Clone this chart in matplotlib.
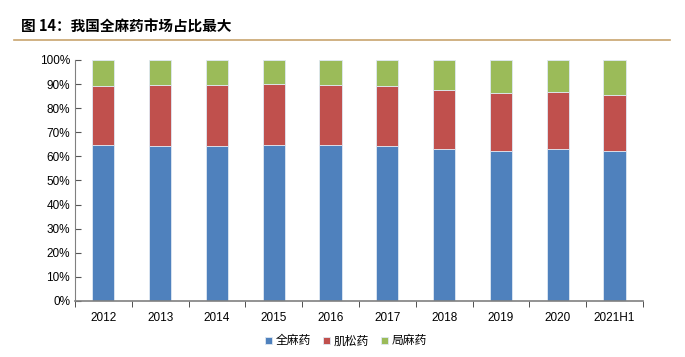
import matplotlib.pyplot as plt
import numpy as np

plt.rcParams['font.family'] = ['Liberation Sans', 'Noto Sans CJK SC', 'DejaVu Sans']

years = ["2012", "2013", "2014", "2015", "2016", "2017", "2018", "2019", "2020", "2021H1"]
quanma = [64.7, 64.3, 64.3, 64.6, 64.6, 64.4, 63.1, 62.2, 62.9, 62.2]
jisong = [24.5, 25.3, 25.3, 25.3, 25.0, 24.8, 24.3, 24.2, 23.8, 23.3]
juma = [100 - a - b for a, b in zip(quanma, jisong)]

names = ["全麻药", "肌松药", "局麻药"]
colors = ["#4F81BD", "#C0504D", "#9BBB59"]

fig = plt.figure(figsize=(6.85, 3.57), dpi=100)
ax = fig.add_axes([0.1095, 0.157, 0.829, 0.675])

x = np.arange(len(years))
w = 0.39
bottom = np.zeros(len(years))
for vals, name, c in zip([quanma, jisong, juma], names, colors):
    ax.bar(x, vals, w, bottom=bottom, color=c, label=name,
           edgecolor="#dfe8f3", linewidth=0.6)
    bottom += np.array(vals)

ax.set_xlim(-0.5, len(years) - 0.5)
ax.set_ylim(0, 100)
ax.set_yticks(np.arange(0, 101, 10))
ax.set_yticklabels([f"{v}%" for v in range(0, 101, 10)], fontsize=8.5)
ax.set_xticks(x)
ax.set_xticklabels(years, fontsize=8.5)
ax.set_xticks(np.arange(-0.5, len(years)), minor=True)
ax.tick_params(axis="x", which="major", length=0, pad=8)
ax.tick_params(axis="x", which="minor", length=4, direction="out", color="#333333")
ax.tick_params(axis="y", length=4, direction="in", color="#555555")

for s in ["top", "right"]:
    ax.spines[s].set_visible(False)
ax.spines["left"].set_color("#808080")
ax.spines["bottom"].set_color("#808080")
ax.spines["bottom"].set_linewidth(1.2)

fig.text(0.03, 0.925, "图 14：我国全麻药市场占比最大", fontsize=10.5, fontweight="bold",
         family=["Noto Sans CJK SC", "DejaVu Sans"], va="center")
fig.add_artist(plt.Line2D([0.02, 0.978], [0.888, 0.888], color="#C8A46E", linewidth=1.2))

leg = fig.legend(loc="center", bbox_to_anchor=(0.505, 0.045), ncol=3, frameon=False,
                 handlelength=0.6, handleheight=0.6, handletextpad=0.3,
                 columnspacing=1.0, prop={"family": ["Noto Sans CJK SC"], "size": 8.5})

plt.savefig("out.png", dpi=100)
